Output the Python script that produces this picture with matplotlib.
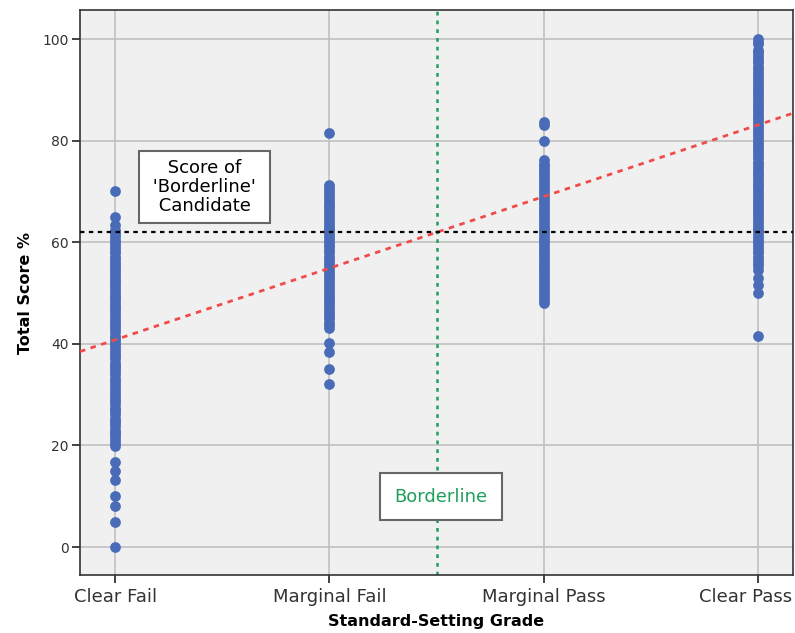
import matplotlib
matplotlib.use("Agg")
import matplotlib.pyplot as plt
import matplotlib.transforms as mtransforms

plt.rcParams["font.family"] = ["DejaVu Sans"]

# grades on the x axis (1..4)
grades = ["Clear Fail", "Marginal Fail", "Marginal Pass", "Clear Pass"]

# total score % per candidate
clear_fail = [0, 5, 8, 10, 13.2, 15, 16.8, 19.9, 20.5, 21, 21.6, 22.2, 22.7, 23.1,
              23.8, 24.5, 24.9, 25.3, 26, 26.6, 27, 27.4, 28.1, 28.7, 29.2, 29.8,
              30.4, 31, 31.6, 32.2, 32.6, 33.1, 33.8, 34.4, 35, 35.5, 35.9, 36.3,
              37, 37.6, 38, 38.5, 39.1, 39.7, 40.2, 40.8, 41.2, 41.6, 42.3, 42.9,
              43.5, 44, 44.6, 45.1, 45.7, 46.2, 46.8, 47.3, 47.9, 48.4, 49, 49.5,
              50.1, 50.6, 51.2, 51.7, 52.3, 52.8, 53.4, 53.9, 54.5, 55, 55.6, 56.1,
              56.7, 57.2, 57.8, 58.3, 58.9, 59.4, 60, 60.5, 61.1, 61.6, 62, 62.4,
              63.5, 65, 70]
marginal_fail = [32.1, 35, 38.4, 40.2, 43.1, 43.7, 44.2, 44.8, 45.4, 45.9, 46.5,
                 47, 47.6, 48.2, 48.8, 49.3, 49.9, 50.4, 51, 51.6, 52.2, 52.7, 53.3,
                 53.8, 54.4, 55, 55.6, 56.1, 56.7, 57.2, 57.8, 58.4, 59, 59.5, 60.1,
                 60.6, 61.2, 61.8, 62.4, 62.9, 63.5, 64, 64.6, 65.2, 65.8, 66.3, 66.9,
                 67.4, 68, 68.6, 69.2, 69.7, 70.3, 70.8, 71.3, 81.6]
marginal_pass = [48.1, 48.6, 49.2, 49.7, 50.3, 50.8, 51.4, 51.9, 52.5, 53, 53.6,
                 54.1, 54.7, 55.2, 55.8, 56.3, 56.9, 57.4, 58, 58.5, 59.1, 59.6,
                 60.2, 60.7, 61.3, 61.8, 62.4, 62.9, 63.5, 64, 64.6, 65.1, 65.7,
                 66.2, 66.8, 67.3, 67.9, 68.4, 69, 69.5, 70.1, 70.6, 71.2, 71.7,
                 72.3, 72.8, 73.4, 73.9, 74.5, 75, 75.5, 76.2, 80, 83, 83.7]
clear_pass = [41.6, 50, 51.5, 53, 54.5, 55.3, 56, 56.6, 57.2, 57.8, 58.3, 58.9,
              59.4, 60, 60.5, 61.1, 61.6, 62.2, 62.7, 63.3, 63.8, 64.4, 64.9, 65.5,
              66, 66.6, 67.1, 67.7, 68.2, 68.8, 69.3, 69.9, 70.4, 71, 71.5, 72.1,
              72.6, 73.2, 73.7, 74.3, 74.8, 75.4, 75.9, 76.5, 77, 77.6, 78.1, 78.7,
              79.2, 79.8, 80.3, 80.9, 81.4, 82, 82.5, 83.1, 83.6, 84.2, 84.7, 85.3,
              85.8, 86.4, 86.9, 87.5, 88, 88.6, 89.1, 89.7, 90.2, 90.8, 91.3, 91.9,
              92.4, 93, 93.5, 94.1, 94.6, 95.2, 95.7, 96.3, 96.8, 97.4, 97.9, 99,
              99.5, 100]
scores = [clear_fail, marginal_fail, marginal_pass, clear_pass]

borderline_score = 62
borderline_grade = 2.5
fit_intercept = 26.7
fit_slope = 14.1

green = "#1ea05a"

fig = plt.figure(figsize=(7.95, 6.33), dpi=100)
ax = fig.add_axes([0.1006, 0.0916, 0.897, 0.8924])
ax.set_facecolor("#f0f0f0")

for i, vals in enumerate(scores):
    ax.scatter([i + 1] * len(vals), vals, s=60, color="#4a6cb8", zorder=3,
               linewidths=0)

xl = (0.836, 4.164)
ax.plot(xl, [fit_intercept + fit_slope * x for x in xl], color="#f04a4a",
        ls=(0, (2, 2)), lw=2, zorder=4)
ax.axhline(borderline_score, color="black", ls=(0, (2, 2)), lw=1.6, zorder=4)
ax.axvline(borderline_grade, color=green, ls=(0, (1.5, 2)), lw=1.8, zorder=2)

ax.set_xlim(xl)
ax.set_ylim(-5.5, 105.7)
ax.set_xticks(range(1, 5))
ax.set_xticklabels(grades)
ax.set_yticks(range(0, 101, 20))
ax.grid(True, color="#c0c0c0", lw=1.2, zorder=1)
ax.set_axisbelow(True)
ax.tick_params(direction="out", length=6, width=1.2, colors="#222222",
               labelcolor="#333333")
ax.tick_params(axis="x", labelsize=13, pad=3)
ax.tick_params(axis="y", labelsize=10, pad=2)
for sp in ax.spines.values():
    sp.set_linewidth(1.2)
    sp.set_color("#333333")

# SPSS pushes the last label back inside the frame
last = ax.get_xticklabels()[-1]
last.set_transform(last.get_transform() +
                   mtransforms.ScaledTranslation(-0.12, 0, fig.dpi_scale_trans))

ax.set_xlabel("Standard-Setting Grade", fontsize=11.5, fontweight="bold",
              labelpad=6)
ax.set_ylabel("Total Score %", fontsize=11.5, fontweight="bold", labelpad=7)

box = dict(boxstyle="square,pad=0.45", fc="white", ec="#666666", lw=1.5)
ax.text(1.418, 70.9, " Score of \n 'Borderline' \n Candidate ", ha="center",
        va="center", fontsize=13, linespacing=1.05, bbox=box, zorder=5)
ax.text(2.52, 9.9, "Borderline", ha="center", va="center",
        fontsize=13, color=green,
        bbox=dict(boxstyle="square,pad=0.8", fc="white", ec="#666666", lw=1.5),
        zorder=5)

fig.savefig("out.png", dpi=100)
